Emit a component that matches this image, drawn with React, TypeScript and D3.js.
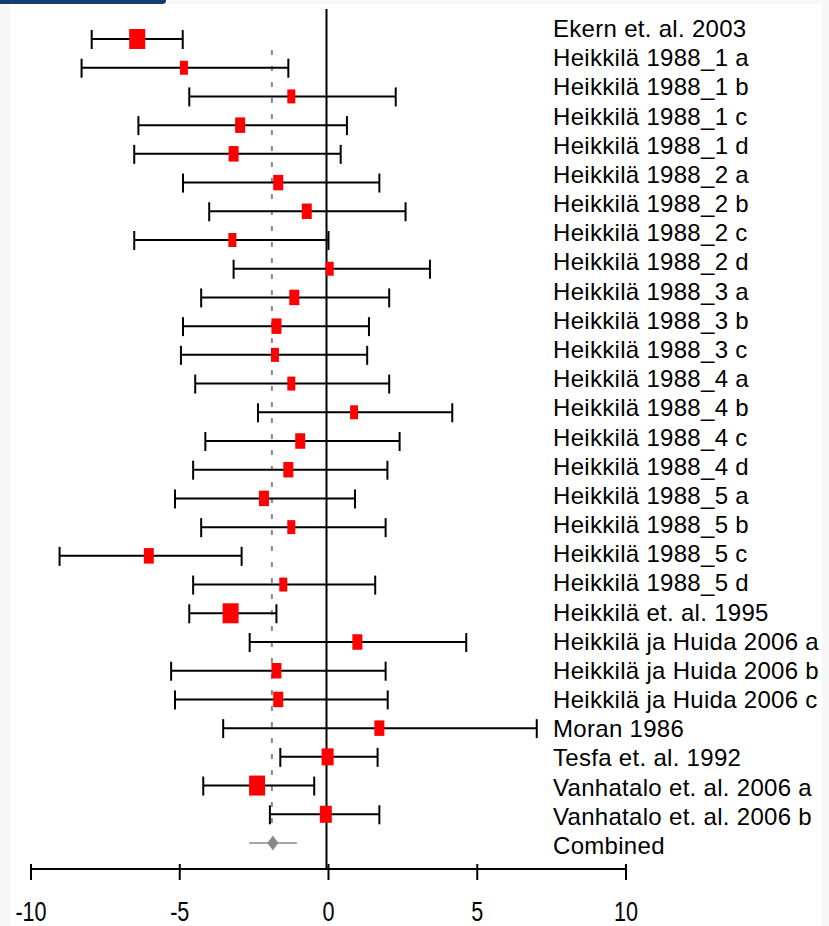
import React, { useEffect, useRef } from 'react';
import * as d3 from 'd3';

// study labels, top to bottom
const studies = [
  'Ekern et. al. 2003',
  'Heikkilä 1988_1 a', 'Heikkilä 1988_1 b', 'Heikkilä 1988_1 c', 'Heikkilä 1988_1 d',
  'Heikkilä 1988_2 a', 'Heikkilä 1988_2 b', 'Heikkilä 1988_2 c', 'Heikkilä 1988_2 d',
  'Heikkilä 1988_3 a', 'Heikkilä 1988_3 b', 'Heikkilä 1988_3 c',
  'Heikkilä 1988_4 a', 'Heikkilä 1988_4 b', 'Heikkilä 1988_4 c', 'Heikkilä 1988_4 d',
  'Heikkilä 1988_5 a', 'Heikkilä 1988_5 b', 'Heikkilä 1988_5 c', 'Heikkilä 1988_5 d',
  'Heikkilä et. al. 1995',
  'Heikkilä ja Huida 2006 a', 'Heikkilä ja Huida 2006 b', 'Heikkilä ja Huida 2006 c',
  'Moran 1986', 'Tesfa et. al. 1992',
  'Vanhatalo et. al. 2006 a', 'Vanhatalo et. al. 2006 b',
];

const estimate = [
  -6.43, -4.86, -1.25, -2.97, -3.19, -1.69, -0.73, -3.23, 0.04, -1.15, -1.75, -1.80,
  -1.25, 0.86, -0.95, -1.35, -2.17, -1.25, -6.04, -1.52, -3.29, 0.97, -1.75, -1.69,
  1.71, -0.03, -2.40, -0.09,
];
const lower = [
  -7.96, -8.30, -4.68, -6.39, -6.53, -4.89, -4.01, -6.53, -3.19, -4.28, -4.89, -4.96,
  -4.48, -2.37, -4.14, -4.55, -5.16, -4.28, -9.04, -4.55, -4.68, -2.65, -5.29, -5.16,
  -3.54, -1.62, -4.21, -1.97,
];
const upper = [
  -4.90, -1.35, 2.26, 0.62, 0.41, 1.71, 2.59, 0.0, 3.41, 2.04, 1.36, 1.30,
  2.04, 4.16, 2.39, 1.98, 0.89, 1.92, -2.92, 1.57, -1.75, 4.63, 1.92, 1.99,
  7.0, 1.65, -0.48, 1.71,
];
const weight = [
  8, 4, 4, 5, 5, 5, 5, 4, 4, 5, 5, 4, 4, 4, 5, 5, 5, 4, 5, 4, 8, 5, 5, 5, 5, 6, 8, 6,
];

const combinedLabel = 'Combined';
const combined = { est: -1.87, lo: -2.67, hi: -1.06 };

const xTicks = [-10, -5, 0, 5, 10];

export default function App() {
  const ref = useRef<SVGSVGElement>(null);

  useEffect(() => {
    const svg = d3.select(ref.current);
    svg.selectAll('*').remove();

    const W = 829, H = 926;
    const rows = [...studies, combinedLabel];

    // page frame
    svg.append('rect').attr('width', W).attr('height', H).attr('fill', '#f7f7f7');
    svg.append('rect').attr('x', 10).attr('y', 4).attr('width', 812).attr('height', H - 4).attr('fill', '#fff');
    svg.append('path')
      .attr('d', 'M0,0 H166 V0.5 Q166,4 162,4 H0 Z')
      .attr('fill', '#123f6f');

    const x = d3.scaleLinear().domain([-10, 10]).range([31, 626]);
    const y = d3.scalePoint<string>().domain(rows).range([39, 843]);
    const yLabel = d3.scalePoint<string>().domain(rows).range([37, 854]);
    const bw = d3.scaleLinear().domain([0, 8]).range([0, 16]);
    const bh = d3.scaleLinear().domain([4, 8]).range([14, 20]);

    const axisY = 869;

    // dashed line at pooled estimate
    svg.append('line')
      .attr('x1', x(combined.est) - 1).attr('x2', x(combined.est) - 1)
      .attr('y1', 50).attr('y2', 830)
      .attr('stroke', '#888').attr('stroke-width', 2)
      .attr('stroke-dasharray', '5 11');

    // zero line
    svg.append('line')
      .attr('x1', x(0) - 2).attr('x2', x(0) - 2)
      .attr('y1', 9).attr('y2', axisY)
      .attr('stroke', '#000').attr('stroke-width', 2);

    const g = svg.append('g');
    const data = studies.map((name, i) => ({ name, est: estimate[i], lo: lower[i], hi: upper[i], w: weight[i] }));

    const row = g.selectAll('g.row').data(data).join('g').attr('class', 'row');
    row.append('line')
      .attr('x1', d => x(d.lo)).attr('x2', d => x(d.hi))
      .attr('y1', d => y(d.name)!).attr('y2', d => y(d.name)!)
      .attr('stroke', '#000').attr('stroke-width', 2);
    row.selectAll('line.cap')
      .data(d => [{ v: d.lo, n: d.name }, { v: d.hi, n: d.name }])
      .join('line').attr('class', 'cap')
      .attr('x1', c => x(c.v)).attr('x2', c => x(c.v))
      .attr('y1', c => y(c.n)! - 9).attr('y2', c => y(c.n)! + 10)
      .attr('stroke', '#000').attr('stroke-width', 2);
    row.append('rect')
      .attr('x', d => x(d.est) - bw(d.w) / 2)
      .attr('y', d => y(d.name)! - bh(d.w) / 2)
      .attr('width', d => bw(d.w))
      .attr('height', d => bh(d.w))
      .attr('fill', '#ff0000');

    // combined estimate
    const cy = y(combinedLabel)!;
    svg.append('line')
      .attr('x1', x(combined.lo)).attr('x2', x(combined.hi))
      .attr('y1', cy).attr('y2', cy)
      .attr('stroke', '#888').attr('stroke-width', 1.5);
    const cx = x(combined.est);
    svg.append('path')
      .attr('d', `M${cx},${cy - 7.5} L${cx + 5.5},${cy} L${cx},${cy + 7.5} L${cx - 5.5},${cy} Z`)
      .attr('fill', '#888');

    // labels
    svg.append('g').selectAll('text').data(rows).join('text')
      .attr('x', 553)
      .attr('y', d => yLabel(d)!)
      .attr('font-family', '"Liberation Sans", Arial, sans-serif')
      .attr('font-size', 24)
      .attr('letter-spacing', 0.3)
      .attr('fill', '#000')
      .text(d => d);

    // x axis
    svg.append('line')
      .attr('x1', x(-10)).attr('x2', x(10))
      .attr('y1', axisY).attr('y2', axisY)
      .attr('stroke', '#000').attr('stroke-width', 2);
    const ticks = svg.append('g').selectAll('g').data(xTicks).join('g')
      .attr('transform', d => `translate(${x(d)},0)`);
    ticks.append('line')
      .attr('y1', axisY - 5).attr('y2', axisY + 11)
      .attr('stroke', '#000').attr('stroke-width', 2);
    ticks.append('text')
      .attr('transform', `translate(0,${921}) scale(0.8,1)`)
      .attr('text-anchor', 'middle')
      .attr('font-family', '"Liberation Sans", Arial, sans-serif')
      .attr('font-size', 27)
      .attr('fill', '#000')
      .text(d => String(d));
  }, []);

  return (
    <svg
      ref={ref}
      width={829}
      height={926}
      style={{ position: 'absolute', left: 0, top: 0, display: 'block' }}
    />
  );
}
